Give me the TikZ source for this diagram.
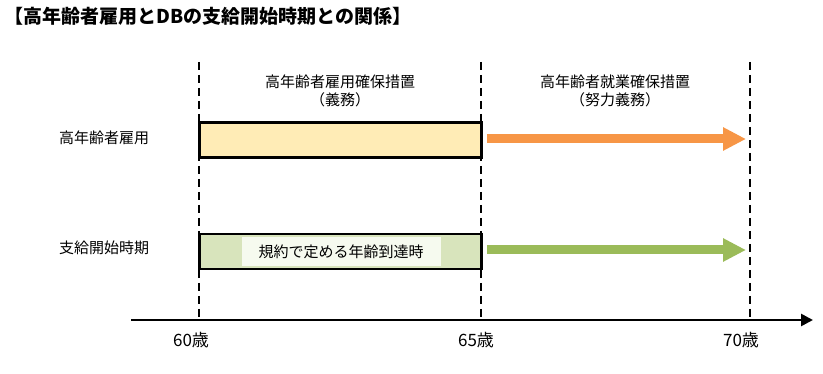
\documentclass[tikz,border=0pt]{standalone}
\usepackage{fontspec}
\setmainfont{Noto Sans CJK JP}
\usepackage{tikz}
\usetikzlibrary{arrows.meta, positioning, calc}
\definecolor{boxyellow}{RGB}{255, 236, 182}
\definecolor{boxgreen}{RGB}{216, 228, 188}
\definecolor{paleleaf}{RGB}{246, 250, 239}
\definecolor{arroworange}{RGB}{247, 150, 70}
\definecolor{arrowgreen}{RGB}{155, 187, 89}
\tikzset{
  agearrow/.style={-{Triangle[length=23pt, width=22pt]}, line width=9pt},
  axisarrow/.style={-{Triangle[length=12pt, width=12pt]}, line width=2.6pt, black},
  ageline/.style={line width=1.8pt, dash pattern=on 8pt off 5pt, black}
}
\tikzset{
  periodbox/.style={rectangle, draw=black, line width=2.6pt, minimum width=282pt, minimum height=35pt, inner sep=0pt},
  innerlbl/.style={rectangle, fill=paleleaf, minimum width=199pt, minimum height=29pt, inner sep=0pt, font=\fontsize{15}{17}\selectfont},
  rowlbl/.style={anchor=west, inner sep=0pt, font=\fontsize{15}{17}\selectfont},
  headlbl/.style={align=center, inner sep=0pt, font=\fontsize{15}{18}\selectfont},
  agelbl/.style={inner sep=0pt, font=\fontsize{17}{19}\selectfont}
}

\begin{document}
\begin{tikzpicture}[x=1pt, y=-1pt]
    \useasboundingbox (0, 0) rectangle (823, 374);

    % Title
    \node[anchor=west, inner sep=0pt, font=\fontsize{19}{22}\selectfont\bfseries] (title) at (4, 16) {【高年齢者雇用とDBの支給開始時期との関係】};

    % Age lines
    \coordinate (t60) at (199, 62);  \coordinate (b60) at (199, 320);
    \coordinate (t65) at (481, 62);  \coordinate (b65) at (481, 320);
    \coordinate (t70) at (750, 62);  \coordinate (b70) at (750, 320);
    \draw[ageline] (t60) -- (b60);
    \draw[ageline] (t65) -- (b65);
    \draw[ageline] (t70) -- (b70);

    % Headings
    \node[headlbl] (duty) at (340, 91) {高年齢者雇用確保措置\\（義務）};
    \node[headlbl] (effort) at (615, 91) {高年齢者就業確保措置\\（努力義務）};

    % Row 1
    \node[rowlbl] (koyolbl) at (59, 138) {高年齢者雇用};
    \node[periodbox, fill=boxyellow] (koyo) at (340.5, 140) {};
    \coordinate (koyoend) at (746, 139);
    \draw[agearrow, arroworange] ([xshift=4pt]koyo.east |- koyoend) -- (koyoend);

    % Row 2
    \node[rowlbl] (kyufulbl) at (59, 248) {支給開始時期};
    \node[periodbox, fill=boxgreen] (kyufu) at (340.5, 251.5) {};
    \node[innerlbl] (kiyaku) at (341, 251.5) {規約で定める年齢到達時};
    \coordinate (kyufuend) at (746, 250);
    \draw[agearrow, arrowgreen] ([xshift=4pt]kyufu.east |- kyufuend) -- (kyufuend);

    % Axis
    \coordinate (axstart) at (131, 320);
    \coordinate (axend) at (813, 320);
    \draw[axisarrow] (axstart) -- (axend);
    \node[agelbl] (age60) at (191, 340) {60歳};
    \node[agelbl] (age65) at (476, 340) {65歳};
    \node[agelbl] (age70) at (741, 340) {70歳};
\end{tikzpicture}
\end{document}
